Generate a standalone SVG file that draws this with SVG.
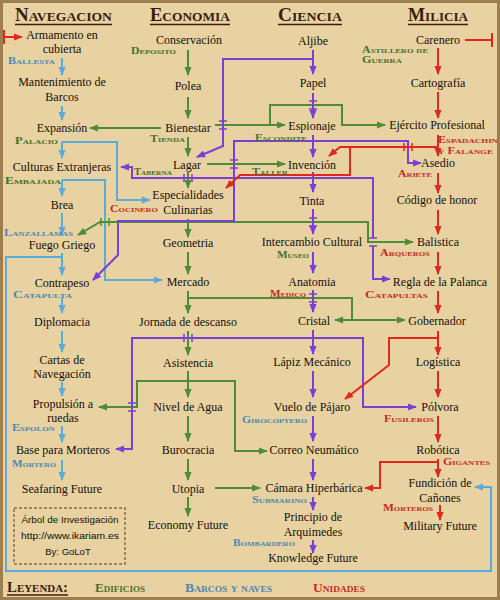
<svg xmlns="http://www.w3.org/2000/svg" width="500" height="600" viewBox="0 0 500 600">
<defs>
<style>
.n{font-family:"Liberation Serif","Times New Roman",serif;font-size:12px;fill:#141008;text-anchor:middle}
.h{font-family:"Liberation Serif","Times New Roman",serif;font-weight:bold;font-variant:small-caps;font-size:18px;fill:#3b1c0c}
.lb{font-family:"Liberation Serif","Times New Roman",serif;font-weight:bold;font-variant:small-caps;font-size:10px}
.lgd{font-family:"Liberation Serif","Times New Roman",serif;font-weight:bold;font-variant:small-caps;font-size:13px}
.tg{fill:#46702c}.tb{fill:#4b88b2}.tr{fill:#c62a1f}
.ul{stroke:#3b1c0c;stroke-width:1.5}
.info{font-family:"Liberation Sans",Arial,sans-serif;font-size:9.5px;fill:#141008;text-anchor:middle}
.g{stroke:#4e8c38;stroke-width:2;fill:none}
.b{stroke:#5aaadc;stroke-width:2;fill:none}
.p{stroke:#7b3fd6;stroke-width:2;fill:none}
.r{stroke:#e0281e;stroke-width:2;fill:none}
.mk{stroke-width:1.5;fill:none}
</style>
<marker id="ag" viewBox="0 0 10 8" refX="9" refY="4" markerWidth="9" markerHeight="7.2" markerUnits="userSpaceOnUse" orient="auto"><path d="M0,0 L10,4 L0,8 z" fill="#4e8c38"/></marker>
<marker id="ab" viewBox="0 0 10 8" refX="9" refY="4" markerWidth="9" markerHeight="7.2" markerUnits="userSpaceOnUse" orient="auto"><path d="M0,0 L10,4 L0,8 z" fill="#5aaadc"/></marker>
<marker id="ap" viewBox="0 0 10 8" refX="9" refY="4" markerWidth="9" markerHeight="7.2" markerUnits="userSpaceOnUse" orient="auto"><path d="M0,0 L10,4 L0,8 z" fill="#7b3fd6"/></marker>
<marker id="ar" viewBox="0 0 10 8" refX="9" refY="4" markerWidth="9" markerHeight="7.2" markerUnits="userSpaceOnUse" orient="auto"><path d="M0,0 L10,4 L0,8 z" fill="#e0281e"/></marker>
</defs>

<rect x="0" y="0" width="500" height="600" fill="#e8d2a2"/>
<rect x="1.5" y="1.5" width="497" height="597" fill="none" stroke="#9c7e50" stroke-width="3"/>

<g id="headers">
<text class="h" x="15" y="21" textLength="97" lengthAdjust="spacingAndGlyphs">Navegacion</text>
<line class="ul" x1="15" y1="24.5" x2="112" y2="24.5"/>
<text class="h" x="150" y="21" textLength="80" lengthAdjust="spacingAndGlyphs">Economia</text>
<line class="ul" x1="150" y1="24.5" x2="230" y2="24.5"/>
<text class="h" x="278" y="21" textLength="64" lengthAdjust="spacingAndGlyphs">Ciencia</text>
<line class="ul" x1="278" y1="24.5" x2="342" y2="24.5"/>
<text class="h" x="408" y="21" textLength="60" lengthAdjust="spacingAndGlyphs">Milicia</text>
<line class="ul" x1="408" y1="24.5" x2="468" y2="24.5"/>
</g>

<g id="connectors">
<!-- blue -->
<path class="b" d="M62,58 V75" marker-end="url(#ab)"/>
<path class="b" d="M62,106 V120" marker-end="url(#ab)"/>
<path class="b" d="M62,142 V158" marker-end="url(#ab)"/>
<path class="b" d="M62,142 H117 V200 H150" marker-end="url(#ab)"/>
<path class="b" d="M62,180 V196" marker-end="url(#ab)"/>
<path class="b" d="M62,180 H105 V280 H162" marker-end="url(#ab)"/>
<path class="b" d="M62,213 V235" marker-end="url(#ab)"/>
<path class="b" d="M62,253 V275" marker-end="url(#ab)"/>
<path class="b" d="M62,257 H6 V571 H491 V487 H475" marker-end="url(#ab)"/>
<path class="b" d="M62,298 V313" marker-end="url(#ab)"/>
<path class="b" d="M62,331 V352" marker-end="url(#ab)"/>
<path class="b" d="M62,382 V396" marker-end="url(#ab)"/>
<path class="b" d="M62,426 V442" marker-end="url(#ab)"/>
<path class="b" d="M62,460 V480" marker-end="url(#ab)"/>
<!-- green -->
<path class="g" d="M188,50 V75" marker-end="url(#ag)"/>
<path class="g" d="M188,97 V118" marker-end="url(#ag)"/>
<path class="g" d="M161,128 H90" marker-end="url(#ag)"/>
<path class="g" d="M188,137 V156" marker-end="url(#ag)"/>
<path class="g" d="M215,125 H285" marker-end="url(#ag)"/>
<path class="g" d="M270,125 V105 H342 V125 H385" marker-end="url(#ag)"/>
<path class="g" d="M207,164 H285" marker-end="url(#ag)"/>
<path class="g" d="M188,172 V188" marker-end="url(#ag)"/>
<path class="g" d="M188,219 V237" marker-end="url(#ag)"/>
<path class="g" d="M188,222 H100 L78,235" marker-end="url(#ag)"/>
<path class="g" d="M188,222 H368 V242 H413" marker-end="url(#ag)"/>
<path class="g" d="M188,252 V274" marker-end="url(#ag)"/>
<path class="g" d="M188,291 V313" marker-end="url(#ag)"/>
<path class="g" d="M188,298 H352 V320 H405" marker-end="url(#ag)"/>
<path class="g" d="M352,320 H335" marker-end="url(#ag)"/>
<path class="g" d="M188,331 V355" marker-end="url(#ag)"/>
<path class="g" d="M188,381 H137 V407 H99" marker-end="url(#ag)"/>
<path class="g" d="M188,381 H235 V451 H267" marker-end="url(#ag)"/>
<path class="g" d="M188,371 V397" marker-end="url(#ag)"/>
<path class="g" d="M188,416 V441" marker-end="url(#ag)"/>
<path class="g" d="M188,459 V480" marker-end="url(#ag)"/>
<path class="g" d="M215,488 H260" marker-end="url(#ag)"/>
<path class="g" d="M188,497 V516" marker-end="url(#ag)"/>
<!-- purple -->
<path class="p" d="M313,50 V74" marker-end="url(#ap)"/>
<path class="p" d="M313,59 H223 V146 L197,157" marker-end="url(#ap)"/>
<path class="p" d="M313,93 V118" marker-end="url(#ap)"/>
<path class="p" d="M313,135 V157" marker-end="url(#ap)"/>
<path class="p" d="M313,141 H408 V163 H421" marker-end="url(#ap)"/>
<path class="p" d="M313,141 H234 V221 H118 V255 L93,280" marker-end="url(#ap)"/>
<path class="p" d="M313,178 H132 V167 H121" marker-end="url(#ap)"/>
<path class="p" d="M313,178 H373 V238 M373,246 V279 H390" marker-end="url(#ap)"/>
<path class="p" d="M313,172 V192" marker-end="url(#ap)"/>
<path class="p" d="M313,209 V234" marker-end="url(#ap)"/>
<path class="p" d="M313,252 V273" marker-end="url(#ap)"/>
<path class="p" d="M313,290 V312" marker-end="url(#ap)"/>
<path class="p" d="M313,330 V354" marker-end="url(#ap)"/>
<path class="p" d="M313,338 H363 V407 H416" marker-end="url(#ap)"/>
<path class="p" d="M313,338 H132 V449 H116" marker-end="url(#ap)"/>
<path class="p" d="M313,371 V397" marker-end="url(#ap)"/>
<path class="p" d="M313,416 V441" marker-end="url(#ap)"/>
<path class="p" d="M313,459 V480" marker-end="url(#ap)"/>
<path class="p" d="M313,497 V510" marker-end="url(#ap)"/>
<path class="p" d="M313,540 V553" marker-end="url(#ap)"/>
<!-- red -->
<path class="r" d="M465,40 H492 M492,33 V47"/>
<path class="r" d="M4,30 V44 M4,37 H22" marker-end="url(#ar)"/>
<path class="r" d="M438,48 V74" marker-end="url(#ar)"/>
<path class="r" d="M438,92 V118" marker-end="url(#ar)"/>
<path class="r" d="M438,135 V156" marker-end="url(#ar)"/>
<path class="r" d="M438,147 H340 L329,156" marker-end="url(#ar)"/>
<path class="r" d="M350,147 V175 H240 L226,188" marker-end="url(#ar)"/>
<path class="r" d="M438,173 V193" marker-end="url(#ar)"/>
<path class="r" d="M438,210 V234" marker-end="url(#ar)"/>
<path class="r" d="M438,252 V274" marker-end="url(#ar)"/>
<path class="r" d="M438,291 V313" marker-end="url(#ar)"/>
<path class="r" d="M438,331 V355" marker-end="url(#ar)"/>
<path class="r" d="M438,338 H389 V365 L345,399" marker-end="url(#ar)"/>
<path class="r" d="M438,371 V397" marker-end="url(#ar)"/>
<path class="r" d="M438,416 V442" marker-end="url(#ar)"/>
<path class="r" d="M438,459 V477" marker-end="url(#ar)"/>
<path class="r" d="M438,462 H380 V488 H365" marker-end="url(#ar)"/>
<path class="r" d="M440,505 V520" marker-end="url(#ar)"/>
<!-- crossing marks -->
<path class="mk" stroke="#7b3fd6" d="M219,121 H227 M219,129 H227 M309,101 H317 M309,109 H317 M230,160 H238 M230,168 H238 M309,218 H317 M309,226 H317 M309,294 H317 M309,302 H317 M128,403 H136 M128,411 H136 M369,238 H377 M369,246 H377 M184,174 V182 M192,174 V182 M184,334 V342 M192,334 V342"/>
<path class="mk" stroke="#e0281e" d="M404,143 V151 M412,143 V151"/>
<path class="mk" stroke="#4e8c38" d="M101,218 V226 M109,218 V226"/>
</g>

<g id="n-armamento"><text class="n" x="62" y="39">Armamento en</text><text class="n" x="62" y="53">cubierta</text></g>
<g id="n-mantenimiento"><text class="n" x="62" y="86">Mantenimiento de</text><text class="n" x="62" y="101">Barcos</text></g>
<g id="n-expansion"><text class="n" x="62" y="132">Expansión</text></g>
<g id="n-culturas"><text class="n" x="62" y="171">Culturas Extranjeras</text></g>
<g id="n-brea"><text class="n" x="62" y="209">Brea</text></g>
<g id="n-fuego"><text class="n" x="62" y="249">Fuego Griego</text></g>
<g id="n-contrapeso"><text class="n" x="62" y="287">Contrapeso</text></g>
<g id="n-diplomacia"><text class="n" x="62" y="326">Diplomacia</text></g>
<g id="n-cartas"><text class="n" x="62" y="364">Cartas de</text><text class="n" x="62" y="378">Navegación</text></g>
<g id="n-propulsion"><text class="n" x="63" y="408">Propulsión a</text><text class="n" x="63" y="422">ruedas</text></g>
<g id="n-base"><text class="n" x="63" y="454">Base para Morteros</text></g>
<g id="n-seafaring"><text class="n" x="62" y="493">Seafaring Future</text></g>

<g id="n-conservacion"><text class="n" x="189" y="44">Conservación</text></g>
<g id="n-polea"><text class="n" x="188" y="90">Polea</text></g>
<g id="n-bienestar"><text class="n" x="188" y="132">Bienestar</text></g>
<g id="n-lagar"><text class="n" x="187" y="169">Lagar</text></g>
<g id="n-especialidades"><text class="n" x="188" y="199">Especialidades</text><text class="n" x="188" y="214">Culinarias</text></g>
<g id="n-geometria"><text class="n" x="188" y="247">Geometria</text></g>
<g id="n-mercado"><text class="n" x="188" y="286">Mercado</text></g>
<g id="n-jornada"><text class="n" x="188" y="326">Jornada de descanso</text></g>
<g id="n-asistencia"><text class="n" x="188" y="367">Asistencia</text></g>
<g id="n-nivel"><text class="n" x="188" y="411">Nivel de Agua</text></g>
<g id="n-burocracia"><text class="n" x="188" y="454">Burocracia</text></g>
<g id="n-utopia"><text class="n" x="188" y="493">Utopia</text></g>
<g id="n-economy"><text class="n" x="188" y="529">Economy Future</text></g>

<g id="n-aljibe"><text class="n" x="313" y="45">Aljibe</text></g>
<g id="n-papel"><text class="n" x="313" y="87">Papel</text></g>
<g id="n-espionaje"><text class="n" x="312" y="130">Espionaje</text></g>
<g id="n-invencion"><text class="n" x="312" y="169">Invención</text></g>
<g id="n-tinta"><text class="n" x="312" y="205">Tinta</text></g>
<g id="n-intercambio"><text class="n" x="312" y="246">Intercambio Cultural</text></g>
<g id="n-anatomia"><text class="n" x="312" y="286">Anatomia</text></g>
<g id="n-cristal"><text class="n" x="314" y="325">Cristal</text></g>
<g id="n-lapiz"><text class="n" x="312" y="366">Lápiz Mecánico</text></g>
<g id="n-vuelo"><text class="n" x="312" y="411">Vuelo de Pájaro</text></g>
<g id="n-correo"><text class="n" x="314" y="454">Correo Neumático</text></g>
<g id="n-camara"><text class="n" x="314" y="492">Cámara Hiperbárica</text></g>
<g id="n-principio"><text class="n" x="313" y="521">Principio de</text><text class="n" x="313" y="536">Arquimedes</text></g>
<g id="n-knowledge"><text class="n" x="313" y="562">Knowledge Future</text></g>

<g id="n-carenero"><text class="n" x="438" y="44">Carenero</text></g>
<g id="n-cartografia"><text class="n" x="438" y="87">Cartografía</text></g>
<g id="n-ejercito"><text class="n" x="437" y="129">Ejército Profesional</text></g>
<g id="n-asedio"><text class="n" x="438" y="167">Asedio</text></g>
<g id="n-codigo"><text class="n" x="437" y="204">Código de honor</text></g>
<g id="n-balistica"><text class="n" x="438" y="246">Balistica</text></g>
<g id="n-regla"><text class="n" x="440" y="286">Regla de la Palanca</text></g>
<g id="n-gobernador"><text class="n" x="437" y="325">Gobernador</text></g>
<g id="n-logistica"><text class="n" x="438" y="366">Logística</text></g>
<g id="n-polvora"><text class="n" x="440" y="411">Pólvora</text></g>
<g id="n-robotica"><text class="n" x="438" y="454">Robótica</text></g>
<g id="n-fundicion"><text class="n" x="440" y="487">Fundición de</text><text class="n" x="440" y="502">Cañones</text></g>
<g id="n-military"><text class="n" x="440" y="530">Military Future</text></g>

<g id="labels">
<text class="lb tb" x="8" y="64" textLength="47" lengthAdjust="spacingAndGlyphs">Ballesta</text>
<text class="lb tg" x="131" y="54" textLength="45" lengthAdjust="spacingAndGlyphs">Deposito</text>
<text class="lb tg" x="15" y="144" textLength="43" lengthAdjust="spacingAndGlyphs">Palacio</text>
<text class="lb tg" x="150" y="142" textLength="35" lengthAdjust="spacingAndGlyphs">Tienda</text>
<text class="lb tg" x="5" y="184" textLength="56" lengthAdjust="spacingAndGlyphs">Embajada</text>
<text class="lb tg" x="134" y="175" textLength="38" lengthAdjust="spacingAndGlyphs">Taberna</text>
<text class="lb tg" x="252" y="175" textLength="36" lengthAdjust="spacingAndGlyphs">Taller</text>
<text class="lb tg" x="255" y="141" textLength="52" lengthAdjust="spacingAndGlyphs">Escondite</text>
<text class="lb tg" x="362" y="53" textLength="66" lengthAdjust="spacingAndGlyphs">Astillero de</text>
<text class="lb tg" x="362" y="63" textLength="40" lengthAdjust="spacingAndGlyphs">Guerra</text>
<text class="lb tr" x="438" y="143" style="font-size:9.5px" textLength="60" lengthAdjust="spacingAndGlyphs">Espadachin</text>
<text class="lb tr" x="438" y="154" style="font-size:9.5px" textLength="55" lengthAdjust="spacingAndGlyphs">y Falange</text>
<text class="lb tr" x="398" y="177" textLength="34" lengthAdjust="spacingAndGlyphs">Ariete</text>
<text class="lb tr" x="110" y="212" textLength="48" lengthAdjust="spacingAndGlyphs">Cocinero</text>
<text class="lb tb" x="4" y="236" textLength="69" lengthAdjust="spacingAndGlyphs">Lanzallamas</text>
<text class="lb tg" x="277" y="258" textLength="32" lengthAdjust="spacingAndGlyphs">Museo</text>
<text class="lb tr" x="380" y="256" textLength="50" lengthAdjust="spacingAndGlyphs">Arqueros</text>
<text class="lb tr" x="270" y="297" textLength="36" lengthAdjust="spacingAndGlyphs">Medico</text>
<text class="lb tr" x="365" y="298" textLength="63" lengthAdjust="spacingAndGlyphs">Catapultas</text>
<text class="lb tb" x="13" y="298" textLength="59" lengthAdjust="spacingAndGlyphs">Catapulta</text>
<text class="lb tb" x="12" y="431" textLength="43" lengthAdjust="spacingAndGlyphs">Espolon</text>
<text class="lb tb" x="242" y="423" textLength="65" lengthAdjust="spacingAndGlyphs">Girocoptero</text>
<text class="lb tr" x="384" y="422" textLength="50" lengthAdjust="spacingAndGlyphs">Fusileros</text>
<text class="lb tr" x="443" y="465" textLength="47" lengthAdjust="spacingAndGlyphs">Gigantes</text>
<text class="lb tb" x="12" y="467" textLength="44" lengthAdjust="spacingAndGlyphs">Mortero</text>
<text class="lb tb" x="252" y="503" textLength="55" lengthAdjust="spacingAndGlyphs">Submarino</text>
<text class="lb tr" x="383" y="511" textLength="50" lengthAdjust="spacingAndGlyphs">Morteros</text>
<text class="lb tb" x="233" y="546" textLength="62" lengthAdjust="spacingAndGlyphs">Bombardero</text>
</g>

<g id="info">
<rect x="14" y="508" width="111" height="56" fill="none" stroke="#8a6a40" stroke-width="1.5" stroke-dasharray="3,2"/>
<text class="info" x="70" y="523" textLength="97" lengthAdjust="spacingAndGlyphs">Árbol de Investigación</text>
<text class="info" x="70" y="539" textLength="98" lengthAdjust="spacingAndGlyphs">http://www.ikariam.es</text>
<text class="info" x="68" y="555">By: GoLoT</text>
</g>

<g id="legend">
<text class="h" x="7" y="592" style="font-size:15px" textLength="61" lengthAdjust="spacingAndGlyphs">Leyenda:</text>
<line class="ul" x1="7" y1="595" x2="68" y2="595"/>
<text class="lgd tg" x="95" y="592" textLength="50" lengthAdjust="spacingAndGlyphs">Edificios</text>
<text class="lgd tb" x="185" y="592" textLength="87" lengthAdjust="spacingAndGlyphs">Barcos y naves</text>
<text class="lgd tr" x="313" y="592" textLength="52" lengthAdjust="spacingAndGlyphs">Unidades</text>
</g>
</svg>
